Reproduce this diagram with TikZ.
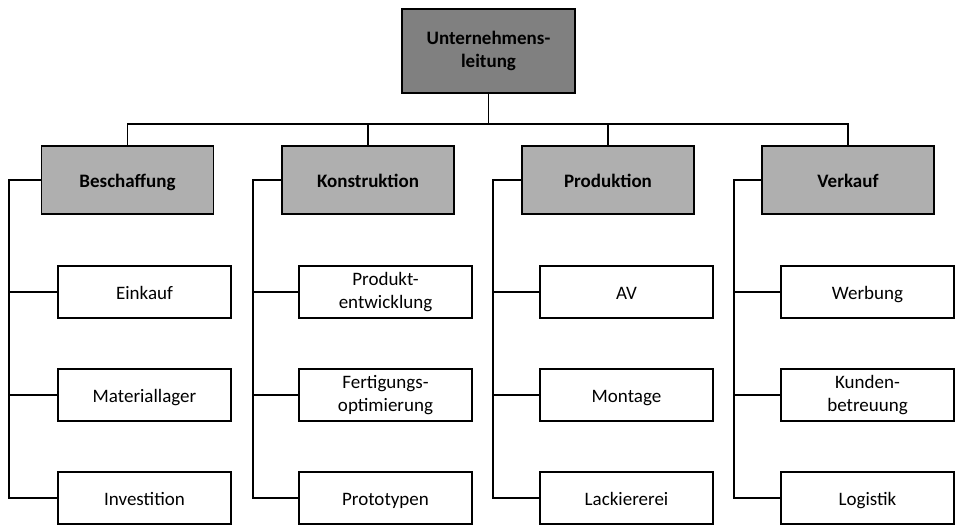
\documentclass[tikz,border=0pt]{standalone}
\usepackage{fontspec}
\setmainfont{Carlito}
\definecolor{headfill}{HTML}{808080}
\definecolor{deptfill}{HTML}{AFAFAF}
\begin{document}
\begin{tikzpicture}[x=1pt,y=-1pt,
  every node/.style={font=\fontsize{19}{22.5}\selectfont, align=center, inner sep=0pt},
  oneline/.style={text height=15pt, text depth=1pt},
  box/.style={draw=black, line width=1.6pt},
  headbox/.style={box, fill=headfill, minimum width=173pt, minimum height=84pt, font=\fontsize{19}{23}\selectfont\bfseries},
  deptbox/.style={box, oneline, fill=deptfill, minimum width=172pt, minimum height=68pt, font=\fontsize{19}{22.5}\selectfont\bfseries},
  subbox/.style={box, fill=white, minimum width=173pt, minimum height=52pt},
  link/.style={draw=black, line width=1.6pt}]
\useasboundingbox (0,0) rectangle (955,525);

% management
\node[headbox] (top) at (488.5,51) {Unternehmens-\\leitung};
\coordinate (j) at (488.5,124);

% departments
\node[deptbox] (d1) at (127.5,180) {Beschaffung};
\node[deptbox] (d2) at (368,180) {Konstruktion};
\node[deptbox] (d3) at (608,180) {Produktion};
\node[deptbox] (d4) at (848,180) {Verkauf};

% side buses
\coordinate (b1) at (9,180);
\coordinate (b2) at (253,180);
\coordinate (b3) at (493,180);
\coordinate (b4) at (734,180);

% sub units
\node[subbox, oneline] (s11) at (144.5,292) {Einkauf};
\node[subbox, oneline] (s12) at (144.5,395) {Materiallager};
\node[subbox, oneline] (s13) at (144.5,498) {Investition};
\node[subbox] (s21) at (385.5,292) {Produkt-\\entwicklung};
\node[subbox] (s22) at (385.5,395) {Fertigungs-\\optimierung};
\node[subbox, oneline] (s23) at (385.5,498) {Prototypen};
\node[subbox, oneline] (s31) at (626.5,292) {AV};
\node[subbox, oneline] (s32) at (626.5,395) {Montage};
\node[subbox, oneline] (s33) at (626.5,498) {Lackiererei};
\node[subbox, oneline] (s41) at (867.5,292) {Werbung};
\node[subbox] (s42) at (867.5,395) {Kunden-\\betreuung};
\node[subbox, oneline] (s43) at (867.5,498) {Logistik};

% top level connectors
\draw[link] (top.south) -- (j);
\draw[link] (j) -| (d1.north);
\draw[link] (j) -| (d4.north);
\draw[link] (j) -| (d2.north);
\draw[link] (j) -| (d3.north);

% department connectors
\foreach \c in {1,2,3,4}{
  \draw[link] (d\c.west) -- (b\c) |- (s\c3.west);
  \draw[link] (b\c) |- (s\c1.west);
  \draw[link] (b\c) |- (s\c2.west);
}
\end{tikzpicture}
\end{document}
